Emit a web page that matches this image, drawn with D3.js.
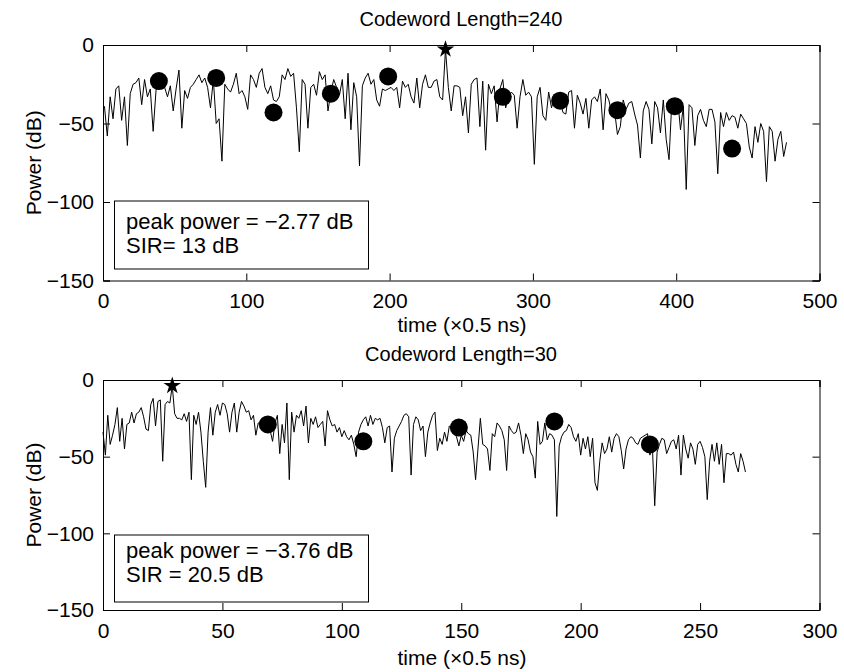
<html>
<head>
<meta charset="utf-8">
<script src="https://d3js.org/d3.v7.min.js"></script>
<style>
  body { margin: 0; background: white; }
  text { font-family: "Liberation Sans", Arial, sans-serif; fill: black; }
</style>
</head>
<body>
<svg width="844" height="672"></svg>
<script>
// power (dB) of codeword length 240, sampled at t = 1, 3, 5, ... (x0.5 ns)
const power240 = [
  -39,-58,-33,-47,-28,-26,-48,-33,-64,-31,-25,-24,-21,-38,-22,-33,-28,-55,-29,-24,
  -28,-27,-33,-26,-42,-28,-16,-53,-29,-34,-27,-25,-22,-19,-24,-21,-27,-40,-22,-50,
  -47,-74,-25,-28,-30,-25,-18,-31,-29,-33,-41,-19,-22,-27,-18,-15,-27,-31,-26,-35,
  -36,-33,
  -19,-22,-15,-20,-18,-40,-68,-22,-25,-53,-27,-25,-32,-17,-22,-19,-42,-30,-22,-27,
  -32,-22,-47,-18,-54,-24,-33,-77,-26,-21,-18,-25,-22,-35,-39,-28,-29,-28,-27,-29,
  -27,-40,-23,-27,-25,-33,-37,-21,-40,-25,-19,-27,-27,-23,-22,-33,-35,-2.77,-27,-42,
  -26,
  -26,-27,-45,-33,-56,-25,-22,-21,-52,-23,-67,-25,-31,-26,-49,-28,-22,-40,-33,-30,
  -32,-53,-33,-22,-32,-30,-33,-76,-33,-27,-45,-48,-30,-40,-33,-34,-36,-43,-44,-30,
  -29,-53,-32,-37,-44,-34,-53,-35,-33,-36,-28,-54,-31,-35,-44,-42,-57,-52,-35,-41,
  -37,-36,-44,-51,-72,-42,-36,-41,-63,-36,-40,-56,-35,-60,-73,-35,-36,-34,-54,-39,
  -92,-38,-40,-64,-45,-41,-48,-52,-41,-41,-49,-82,-43,-52,-43,-48,-45,-46,-53,-44,
  -47,-50,-65,-72,-52,-62,-50,-55,-87,-52,-55,-74,-60,-55,-71,-62
];
// power (dB) of codeword length 30, sampled at t = 0, 1, 2, ...
const power30 = [
  -34,-49,-23,-42,-36,-29,-18,-40,-25,-45,-29,-28,-21,-28,-22,-21,-18,-24,-32,-33,
  -16,-12,-30,-14,-13,-53,-16,-14,-15,-3.76,-22,-25,-25,-26,-22,-27,-21,-65,-23,-29,
  -21,-34,-53,-70,-34,-18,-36,-21,-16,-23,-15,-16,-22,-34,-21,-15,-34,-21,-14,-17,
  -21,-20,-26,-23,-36,-28,-28,-27,-30,-29,-33,-40,-28,-23,-48,-29,-41,-15,-65,-21,
  -34,-23,-25,-20,-30,-17,-41,-25,-29,-24,-31,-29,-27,-43,-20,-26,-30,-29,-34,-31,
  -37,-33,-37,-39,-36,-42,-50,-34,-29,-26,-24,-30,-23,-29,-25,-26,-25,-31,-41,-31,
  -30,-60,-38,-33,-30,-27,-23,-22,-24,-62,-29,-24,-26,-33,-30,-50,-34,-28,-23,-21,
  -46,-38,-42,-34,-40,-30,-31,-33,-37,-43,-36,-40,-33,-35,-36,-47,-65,-45,-25,-42,
  -43,-45,-59,-35,-37,-28,-30,-33,-39,-59,-30,-33,-35,-34,-28,-36,-48,-35,-39,-47,
  -50,-64,-27,-42,-40,-28,-39,-35,-36,-39,-89,-43,-37,-34,-33,-29,-31,-37,-40,-35,
  -49,-38,-45,-37,-50,-38,-67,-72,-53,-41,-48,-45,-37,-47,-38,-35,-37,-46,-58,-45,
  -39,-37,-38,-41,-42,-38,-37,-36,-35,-49,-42,-82,-47,-42,-38,-39,-48,-44,-40,-39,
  -45,-36,-62,-36,-45,-51,-41,-45,-55,-42,-40,-44,-50,-78,-53,-42,-53,-41,-55,-42,
  -67,-48,-48,-49,-47,-55,-60,-48,-53,-60
];
// interferer markers (filled circles) and desired peak (star)
const circT240 = [39, 79, 119, 159, 199, 279, 319, 359, 399, 439];
const circP240 = [-23, -21, -43, -31, -20, -33, -35.5, -41.5, -39, -66];
const peakT240 = 239, peakP240 = -2.77;
const circT30 = [69, 109, 149, 189, 229];
const circP30 = [-29, -40, -31, -27, -42];
const peakT30 = 29, peakP30 = -3.76;

const yTicks = [0, -50, -100, -150];
const xTicks240 = [0, 100, 200, 300, 400, 500];
const xTicks30 = [0, 50, 100, 150, 200, 250, 300];

const svg = d3.select('svg');

function panel(cfg) {
  var x = d3.scaleLinear().domain(cfg.xdom).range([103, 819.5]);
  var y = d3.scaleLinear().domain([-150, 0]).range([cfg.bottom, cfg.top]);
  var g = svg.append('g');

  var line = d3.line().x(d => x(d[0])).y(d => y(d[1]));
  g.append('path')
    .datum(cfg.t.map((t, i) => [t, cfg.p[i]]))
    .attr('d', line)
    .attr('fill', 'none').attr('stroke', 'black').attr('stroke-width', 1);

  g.selectAll('circle.m').data(cfg.ct).enter().append('circle')
    .attr('cx', d => x(d)).attr('cy', (d, i) => y(cfg.cp[i])).attr('r', 9)
    .attr('fill', 'black');
  g.append('path')
    .attr('d', d3.symbol().type(d3.symbolStar).size(95)())
    .attr('transform', 'translate(' + x(cfg.pt) + ',' + y(cfg.pp) + ')')
    .attr('fill', 'black');

  // axes, ticks inward, box on
  var fmt = d3.format('');
  g.append('g').attr('transform', 'translate(0,' + cfg.bottom + ')')
    .call(d3.axisBottom(x).tickValues(cfg.xt).tickSize(-7).tickPadding(13).tickFormat(fmt));
  g.append('g').attr('transform', 'translate(0,' + cfg.top + ')')
    .call(d3.axisTop(x).tickValues(cfg.xt).tickSize(-7).tickFormat(''));
  g.append('g').attr('transform', 'translate(103,0)')
    .call(d3.axisLeft(y).tickValues(yTicks).tickSize(-7).tickPadding(9).tickFormat(fmt));
  g.append('g').attr('transform', 'translate(819.5,0)')
    .call(d3.axisRight(y).tickValues(yTicks).tickSize(-7).tickFormat(''));
  g.selectAll('.domain').attr('stroke', 'black');
  g.selectAll('.tick line').attr('stroke', 'black');
  g.selectAll('.tick text').style('font-size', '21px').attr('fill', 'black')
    .style('font-family', '"Liberation Sans", Arial, sans-serif');

  g.append('text').attr('x', 461).attr('y', cfg.top - 19).attr('text-anchor', 'middle')
    .style('font-size', '20px').text(cfg.title);
  g.append('text').attr('x', 462).attr('y', cfg.xlabY).attr('text-anchor', 'middle')
    .style('font-size', '21px').text('time (\u00d70.5 ns)');
  g.append('text').attr('transform', 'translate(41,' + (cfg.top + cfg.bottom) / 2 + ') rotate(-90)')
    .attr('text-anchor', 'middle').style('font-size', '21px').text('Power (dB)');

  // annotation box
  g.append('rect').attr('x', 114.5).attr('y', cfg.box[0])
    .attr('width', 254).attr('height', cfg.box[1] - cfg.box[0])
    .attr('fill', 'white').attr('stroke', 'black').attr('stroke-width', 1);
  g.append('text').attr('x', 126).attr('y', cfg.base[0])
    .style('font-size', '22px').text(cfg.line1);
  g.append('text').attr('x', 126).attr('y', cfg.base[1])
    .style('font-size', '22px').text(cfg.line2);
}

panel({
  xdom: [0, 500], top: 45, bottom: 280.5, xt: xTicks240, xlabY: 332,
  t: power240.map((v, i) => 1 + 2 * i), p: power240,
  ct: circT240, cp: circP240, pt: peakT240, pp: peakP240,
  title: 'Codeword Length=240', box: [201, 269], base: [229, 253],
  line1: 'peak power = \u22122.77 dB', line2: 'SIR= 13 dB'
});
panel({
  xdom: [0, 300], top: 380, bottom: 610, xt: xTicks30, xlabY: 665,
  t: power30.map((v, i) => i), p: power30,
  ct: circT30, cp: circP30, pt: peakT30, pp: peakP30,
  title: 'Codeword Length=30', box: [535, 602], base: [558, 582],
  line1: 'peak power = \u22123.76 dB', line2: 'SIR = 20.5 dB'
});
</script>
</body>
</html>
